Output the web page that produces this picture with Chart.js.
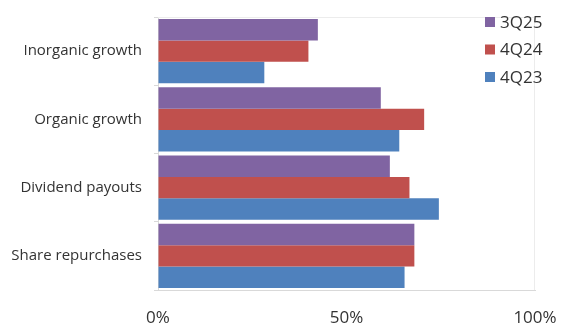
<!DOCTYPE html>
<html>
<head>
<meta charset="utf-8">
<script src="https://cdn.jsdelivr.net/npm/chart.js@4"></script>
<style>
  html, body { margin: 0; padding: 0; background: #fff; }
  #wrap { width: 562px; height: 326px; }
</style>
</head>
<body>
<div id="wrap"><canvas id="capitalChart"></canvas></div>
<script>
const categories = ['Inorganic growth', 'Organic growth', 'Dividend payouts', 'Share repurchases'];
const seriesLabels = ['3Q25', '4Q24', '4Q23'];
const values3Q25 = [42.4, 59.1, 61.5, 68.0];
const values4Q24 = [39.9, 70.6, 66.7, 68.0];
const values4Q23 = [28.2, 64.0, 74.5, 65.4];
const seriesColors = ['#8064a2', '#c0504d', '#4f81bd'];
const xTicks = [0, 50, 100];

const FONT = '"Open Sans", "Noto Sans", sans-serif';

// legend drawn over the top-right corner of the plot, like the original
const overlayLegend = {
  id: 'overlayLegend',
  afterDraw(chart) {
    const ctx = chart.ctx;
    ctx.save();
    ctx.font = '17px ' + FONT;
    ctx.textBaseline = 'middle';
    chart.data.datasets.forEach((ds, i) => {
      const y = 22 + i * 27.5;
      ctx.fillStyle = ds.backgroundColor;
      ctx.fillRect(485, y - 5, 10, 10);
      ctx.fillStyle = '#333';
      ctx.fillText(ds.label, 500, y + 1);
    });
    ctx.restore();
  }
};

// faint frame on the top and right of the plot area
const plotFrame = {
  id: 'plotFrame',
  beforeDatasetsDraw(chart) {
    const { ctx, chartArea: a } = chart;
    ctx.save();
    ctx.strokeStyle = '#ececec';
    ctx.lineWidth = 1;
    ctx.beginPath();
    ctx.moveTo(a.left, a.top + 0.5);
    ctx.lineTo(a.right, a.top + 0.5);
    ctx.moveTo(a.right - 0.5, a.top);
    ctx.lineTo(a.right - 0.5, a.bottom);
    ctx.stroke();
    ctx.restore();
  }
};

new Chart(document.getElementById('capitalChart'), {
  type: 'bar',
  data: {
    labels: categories,
    datasets: [
      { label: seriesLabels[0], data: values3Q25, backgroundColor: seriesColors[0] },
      { label: seriesLabels[1], data: values4Q24, backgroundColor: seriesColors[1] },
      { label: seriesLabels[2], data: values4Q23, backgroundColor: seriesColors[2] }
    ]
  },
  options: {
    indexAxis: 'y',
    responsive: true,
    maintainAspectRatio: false,
    animation: false,
    layout: { padding: { top: 17, right: 27, bottom: 0, left: 0 } },
    datasets: { bar: { categoryPercentage: 0.94, barPercentage: 1 } },
    plugins: { legend: { display: false }, tooltip: { enabled: false } },
    scales: {
      x: {
        min: 0,
        max: 100,
        afterBuildTicks: (scale) => { scale.ticks = xTicks.map((v) => ({ value: v })); },
        afterFit: (scale) => {
          scale.height = 36;
          scale.paddingLeft = 0;
          scale.paddingRight = 0;
        },
        grid: { display: true, drawOnChartArea: false, drawTicks: false },
        border: { color: '#d9d9d9' },
        ticks: {
          padding: 18,
          color: '#333',
          font: { family: FONT, size: 17 },
          callback: (v) => v + '%'
        }
      },
      y: {
        afterFit: (scale) => {
          scale.width = 158;
          scale.paddingTop = 0;
          scale.paddingBottom = 0;
        },
        grid: { offset: true, drawOnChartArea: false, tickLength: 4, color: '#d9d9d9' },
        border: { color: '#d9d9d9' },
        ticks: {
          padding: 12,
          color: '#333',
          font: { family: FONT, size: 15 }
        }
      }
    }
  },
  plugins: [plotFrame, overlayLegend]
});
</script>
</body>
</html>
